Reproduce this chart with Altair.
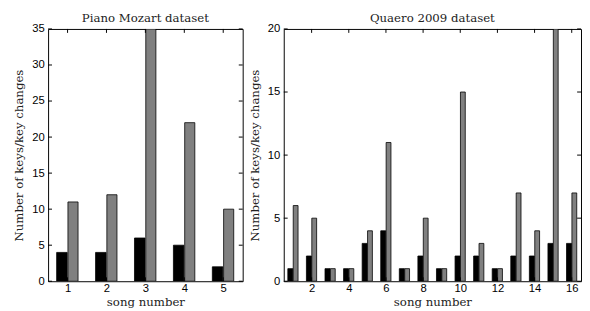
import altair as alt
import pandas as pd

# ---- data ----
mozart_songs = [1, 2, 3, 4, 5]
mozart_keys = [4, 4, 6, 5, 2]
mozart_changes = [11, 12, 35, 22, 10]
mozart_xticks = [1, 2, 3, 4, 5]
mozart_yticks = [0, 5, 10, 15, 20, 25, 30, 35]

quaero_songs = list(range(1, 17))
quaero_keys = [1, 2, 1, 1, 3, 4, 1, 2, 1, 2, 2, 1, 2, 2, 3, 3]
quaero_changes = [6, 5, 1, 1, 4, 11, 1, 5, 1, 15, 3, 1, 7, 4, 20, 7]
quaero_xticks = [2, 4, 6, 8, 10, 12, 14, 16]
quaero_yticks = [0, 5, 10, 15, 20]

H = 258
SERIF = "DejaVu Serif"
SANS = "Liberation Sans"


def panel(songs, keys, changes, xticks, yticks, ymax, width, title):
    df = pd.DataFrame({"song": songs, "keys": keys, "changes": changes})
    xs = alt.Scale(domain=[0.5, len(songs) + 0.5], nice=False, zero=False)
    ys = alt.Scale(domain=[0, ymax], nice=False)
    xaxis = alt.Axis(values=xticks, ticks=False, domain=False, grid=False,
                     labelFont=SANS, labelFontSize=11.5, labelColor="black",
                     labelPadding=2, title="song number", titleFont=SERIF,
                     titleFontSize=12, titleFontWeight="normal",
                     titleColor="#222", titlePadding=2, labelFlush=False)
    yaxis = alt.Axis(values=yticks, ticks=False, domain=False, grid=False,
                     labelFont=SANS, labelFontSize=11.5, labelColor="black",
                     labelPadding=4, title="Number of keys/key changes",
                     titleFont=SERIF, titleFontSize=12, titleFontWeight="normal",
                     titleColor="#222", titlePadding=6, labelFlush=False)
    base = alt.Chart(df)
    black = base.transform_calculate(
        x0="datum.song - 0.28", x1="datum.song - 0.01"
    ).mark_bar(color="black", stroke="black", strokeWidth=0.8, clip=True).encode(
        x=alt.X("x0:Q", scale=xs, axis=xaxis),
        x2="x1:Q",
        y=alt.Y("keys:Q", scale=ys, axis=yaxis),
        y2=alt.datum(0),
    )
    gray = base.transform_calculate(
        x0="datum.song + 0.01", x1="datum.song + 0.27"
    ).mark_bar(color="#808080", stroke="black", strokeWidth=0.8, clip=True).encode(
        x=alt.X("x0:Q", scale=xs, axis=xaxis),
        x2="x1:Q",
        y=alt.Y("changes:Q", scale=ys, axis=yaxis),
        y2=alt.datum(0),
    )
    ydf = alt.Chart(pd.DataFrame({"v": yticks}))
    xdf = alt.Chart(pd.DataFrame({"v": xticks}))
    rule = dict(color="black", strokeWidth=1)
    lt = ydf.mark_rule(**rule).encode(y=alt.Y("v:Q", scale=ys, axis=yaxis),
                                      x=alt.value(0), x2=alt.value(4))
    rt = ydf.mark_rule(**rule).encode(y=alt.Y("v:Q", scale=ys, axis=yaxis),
                                      x=alt.value(width - 4), x2=alt.value(width))
    bt = xdf.mark_rule(**rule).encode(x=alt.X("v:Q", scale=xs, axis=xaxis),
                                      y=alt.value(H - 4), y2=alt.value(H))
    tt = xdf.mark_rule(**rule).encode(x=alt.X("v:Q", scale=xs, axis=xaxis),
                                      y=alt.value(0), y2=alt.value(4))
    return alt.layer(black, gray, lt, rt, bt, tt).properties(
        width=width, height=H,
        title=alt.TitleParams(title, font=SERIF, fontSize=12,
                              fontWeight="normal", color="#222", offset=-2),
    )


left = panel(mozart_songs, mozart_keys, mozart_changes, mozart_xticks,
             mozart_yticks, 35, 199, "Piano Mozart dataset")
right = panel(quaero_songs, quaero_keys, quaero_changes, quaero_xticks,
              quaero_yticks, 20, 304, "Quaero 2009 dataset")

chart = alt.hconcat(left, right, spacing=4).properties(
    padding={"left": 4, "top": 0, "right": 0, "bottom": 0},
    background="white",
).configure_view(stroke="black", strokeWidth=1)

chart.save("out.html", embed_options={"renderer": "svg", "actions": False})
